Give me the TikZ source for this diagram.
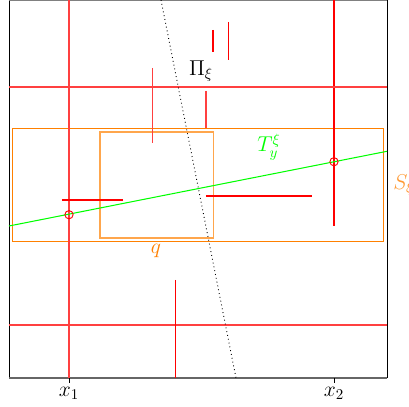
\documentclass[tikz,border=0pt]{standalone}
\begin{document}
\begin{tikzpicture}[x=0.67pt,y=-0.67pt,
  redln/.style={red,line width=0.7pt},
  lightred/.style={red!75,line width=0.75pt},
  orbox/.style={orange,line width=0.7pt},
  lightor/.style={orange!70,line width=0.8pt},
  lbl/.style={inner sep=0pt,font=\fontsize{14}{16}\selectfont}]
\useasboundingbox (0,0) rectangle (409,407);
% frame
\draw[black,line width=0.6pt] (9,0) -- (9,378);
\draw[black,line width=0.6pt] (387,0) -- (387,378);
\draw[gray,line width=0.6pt] (9,0.3) -- (387,0.3);
\draw[gray!80!black,line width=1.1pt] (9,378) -- (387,378);
% ticks
\coordinate (t1) at (69,378); \coordinate (t1b) at (69,383);
\coordinate (t2) at (334,378); \coordinate (t2b) at (334,383);
\draw[black,line width=0.6pt] (t1) -- (t1b);
\draw[black,line width=0.6pt] (t2) -- (t2b);
\node[lbl] (x1) at (69,393) {$x_1$};
\node[lbl] (x2) at (334,393) {$x_2$};
% orange boxes
\draw[orbox] (12.7,128.3) rectangle (383.7,241.7);
\draw[lightor] (100,132) rectangle (213.3,238);
\node[lbl,text=orange] (q) at (156,251) {$q$};
\node[lbl,text=orange!80,anchor=west] (S) at (393,185) {$S_\xi$};
% red lines
\draw[lightred] (69,0) -- (69,378);
\draw[redln] (334,0) -- (334,226);
\draw[lightred] (9,87) -- (387,87);
\draw[lightred] (9,325) -- (387,325);
\draw[lightred] (152.7,68) -- (152.7,143);
\draw[lightred] (206,91) -- (206,128);
\draw[redln] (213,30) -- (213,52);
\draw[redln] (228.7,22) -- (228.7,60);
\draw[redln] (62,200) -- (122.7,200);
\draw[redln] (206,196) -- (311.7,196);
\draw[redln] (175.3,280) -- (175.3,378);
% green line
\coordinate (g1) at (9,226);
\coordinate (g2) at (387,151.3);
\draw[green,line width=0.7pt] (g1) -- (g2);
\node[lbl,text=green] (T) at (269,147) {$T_y^\xi$};
% circles
\node[draw=red,circle,minimum size=5.5pt,inner sep=0pt,line width=0.6pt] (c1) at (69,214.7) {};
\node[draw=red,circle,minimum size=5.5pt,inner sep=0pt,line width=0.6pt] (c2) at (334,161.7) {};
% dotted line
\coordinate (d1) at (161,0);
\coordinate (d2) at (236,378);
\draw[black,dotted,line width=0.6pt] (d1) -- (d2);
\node[lbl] (P) at (201,71) {$\Pi_\xi$};
\end{tikzpicture}
\end{document}
